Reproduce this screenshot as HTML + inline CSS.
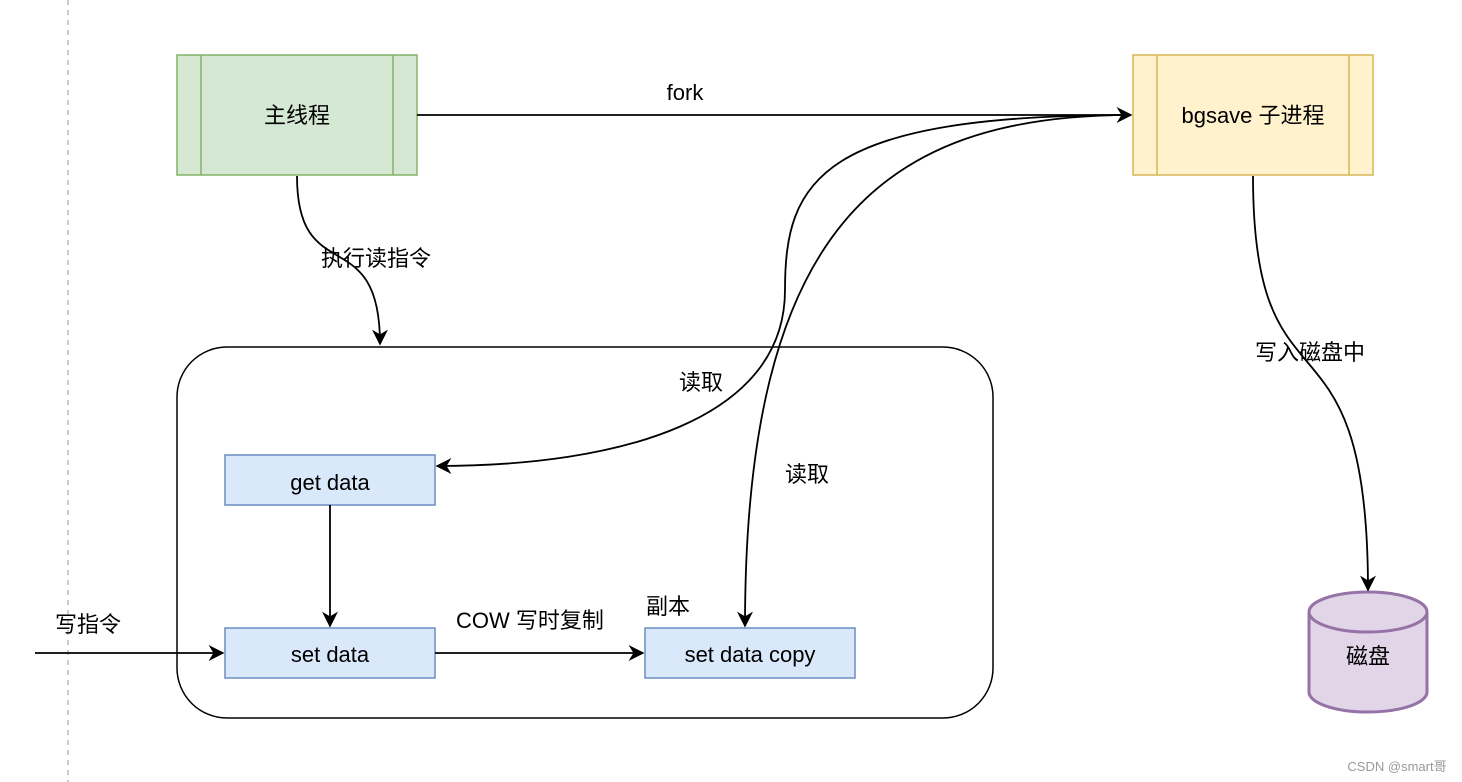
<!DOCTYPE html>
<html><head><meta charset="utf-8"><style>
body{margin:0;background:#fff;}
svg{display:block;font-family:"Liberation Sans","Noto Sans CJK SC",sans-serif;}
</style></head><body>
<svg width="1462" height="782" viewBox="0 0 1462 782" xmlns="http://www.w3.org/2000/svg">
<defs>
<marker id="b" viewBox="0 0 10 10" refX="9" refY="5" markerWidth="16" markerHeight="16" markerUnits="userSpaceOnUse" orient="auto">
<path d="M0 0 L10 5 L0 10 L3 5 Z" fill="#000"/></marker>
</defs>
<line x1="68" y1="0" x2="68" y2="782" stroke="#bbb" stroke-width="1.5" stroke-dasharray="5,5"/>
<rect x="177" y="347" width="816" height="371" rx="50" fill="none" stroke="#000" stroke-width="1.5"/>
<rect x="177" y="55" width="240" height="120" fill="#d5e8d4" stroke="#82b366" stroke-width="1.5"/>
<line x1="201" y1="55" x2="201" y2="175" stroke="#82b366" stroke-width="1.5"/>
<line x1="393" y1="55" x2="393" y2="175" stroke="#82b366" stroke-width="1.5"/>
<text x="297" y="123" font-size="22" text-anchor="middle">主线程</text>
<rect x="1133" y="55" width="240" height="120" fill="#fff2cc" stroke="#d6b656" stroke-width="1.5"/>
<line x1="1157" y1="55" x2="1157" y2="175" stroke="#d6b656" stroke-width="1.5"/>
<line x1="1349" y1="55" x2="1349" y2="175" stroke="#d6b656" stroke-width="1.5"/>
<text x="1253" y="123" font-size="22" text-anchor="middle">bgsave 子进程</text>
<rect x="225" y="455" width="210" height="50" fill="#dae8fc" stroke="#6c8ebf" stroke-width="1.5"/>
<text x="330" y="490" font-size="22" text-anchor="middle">get data</text>
<rect x="225" y="628" width="210" height="50" fill="#dae8fc" stroke="#6c8ebf" stroke-width="1.5"/>
<text x="330" y="662" font-size="22" text-anchor="middle">set data</text>
<rect x="645" y="628" width="210" height="50" fill="#dae8fc" stroke="#6c8ebf" stroke-width="1.5"/>
<text x="750" y="662" font-size="22" text-anchor="middle">set data copy</text>
<path d="M1309 612 L1309 692 A59 20 0 0 0 1427 692 L1427 612" fill="#e1d5e7" stroke="#9673a6" stroke-width="3"/>
<ellipse cx="1368" cy="612" rx="59" ry="20" fill="#e1d5e7" stroke="#9673a6" stroke-width="3"/>
<text x="1368" y="664" font-size="22" text-anchor="middle">磁盘</text>
<g fill="none" stroke="#000" stroke-width="1.8">
<path d="M297 176 C297 290 380 220 380 344" marker-end="url(#b)"/>
<path d="M417 115 L1131 115" marker-end="url(#b)"/>
<path d="M1131 115 C820 115 785 180 785 290 C785 420 620 466 437 466" marker-end="url(#b)"/>
<path d="M1131 115 C880 115 745 230 745 626" marker-end="url(#b)"/>
<path d="M1253 176 C1253 430 1368 290 1368 590" marker-end="url(#b)"/>
<path d="M330 505 L330 626" marker-end="url(#b)"/>
<path d="M435 653 L643 653" marker-end="url(#b)"/>
<path d="M35 653 L223 653" marker-end="url(#b)"/>
</g>
<g font-size="22" text-anchor="middle">
<text x="685" y="100">fork</text>
<text x="376" y="266">执行读指令</text>
<text x="701" y="390">读取</text>
<text x="807" y="482">读取</text>
<text x="1310" y="360">写入磁盘中</text>
<text x="530" y="628">COW 写时复制</text>
<text x="668" y="614">副本</text>
<text x="88" y="632">写指令</text>
</g>
<text x="1397" y="771" font-size="13" fill="#999" text-anchor="middle">CSDN @smart哥</text>
</svg>
</body></html>
